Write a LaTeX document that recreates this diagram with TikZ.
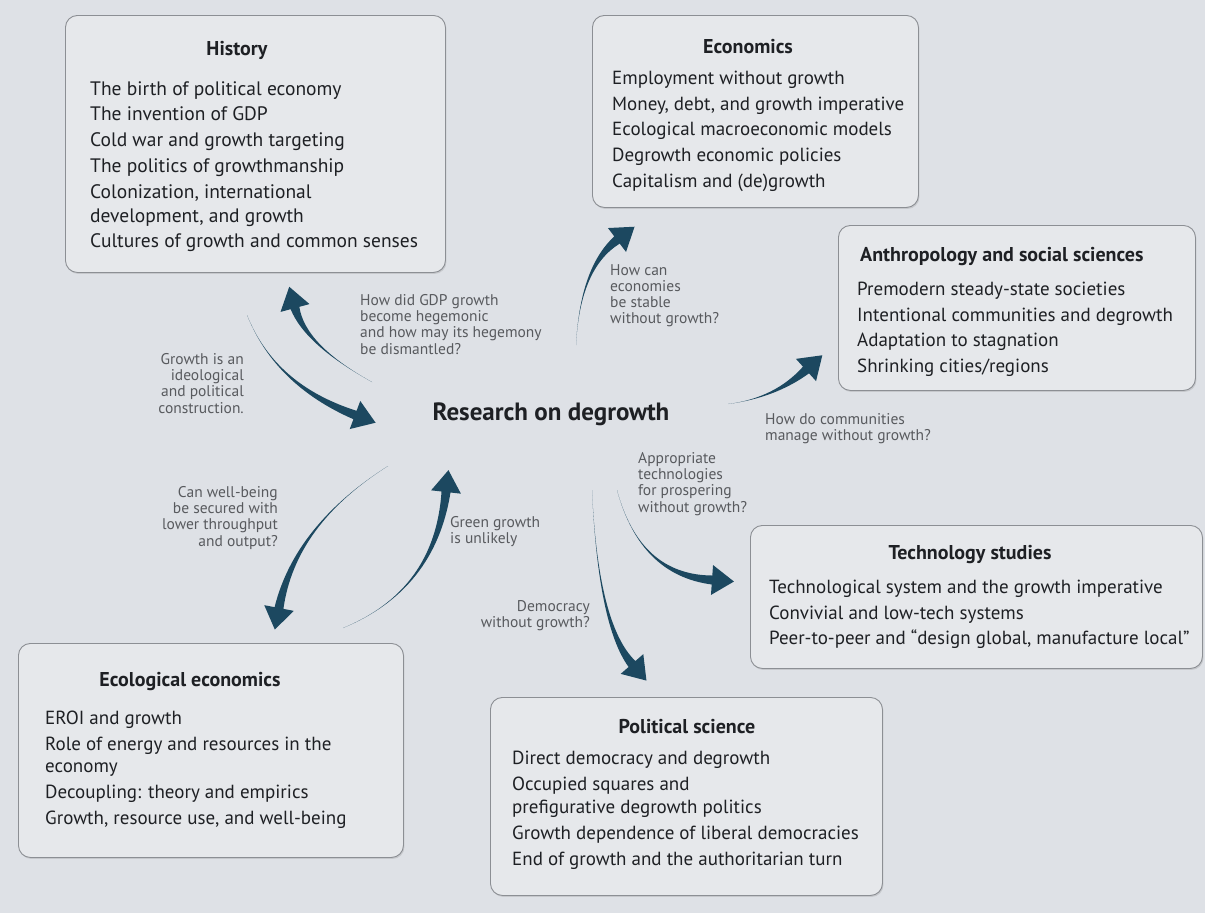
\documentclass[tikz,border=0pt]{standalone}
\usepackage{fontspec}
\setmainfont{PT Sans}
\usetikzlibrary{calc,shadows}
\definecolor{paper}{RGB}{222,225,230}
\definecolor{boxfill}{RGB}{230,232,235}
\definecolor{boxline}{RGB}{140,143,148}
\definecolor{ink}{RGB}{30,32,36}
\definecolor{qgray}{RGB}{88,90,94}
\definecolor{arrowfill}{RGB}{28,72,96}
\tikzset{
  topicbox/.style={draw=boxline, line width=0.9pt, rounded corners=12pt, fill=boxfill, anchor=north west, inner sep=0pt,
    drop shadow={shadow xshift=1pt, shadow yshift=-1.5pt, opacity=0.25}},
  boxtitle/.style={font=\fontsize{20}{24}\selectfont\bfseries, text=ink, inner sep=0pt},
  items/.style={font=\fontsize{19}{25.6}\selectfont, align=left, anchor=north west, inner sep=0pt, text=ink},
  qlabel/.style={font=\fontsize{15.5}{16.3}\selectfont, text=qgray, inner sep=0pt},
  centre/.style={font=\fontsize{25}{28}\selectfont\bfseries, text=ink, inner sep=0pt}
}
\newcommand{\taperarrow}[3]{%
  \path ($(#3)!4.5pt!90:(#2)$) coordinate (tA)
        ($(#3)!4.5pt!-90:(#2)$) coordinate (tB)
        ($(#3)!15pt!90:(#2)$) coordinate (hA)
        ($(#3)!15pt!-90:(#2)$) coordinate (hB)
        ($(#3)!-22pt!(#2)$) coordinate (tT)
        ($(#1)!0.667!(#2)$) coordinate (tC1)
        ($(tA)!0.667!(#2)$) coordinate (tCA)
        ($(tB)!0.667!(#2)$) coordinate (tCB);
  \fill[arrowfill] (#1) .. controls (tC1) and (tCA) .. (tA) -- (hA) -- (tT) -- (hB) -- (tB) .. controls (tCB) and (tC1) .. (#1) -- cycle;
}
\begin{document}
\begin{tikzpicture}[x=1pt,y=-1pt]
\fill[paper] (0,0) rectangle (1205,913);
\useasboundingbox (0,0) rectangle (1205,913);

% boxes
\node[topicbox, minimum width=380pt, minimum height=257pt] (hist) at (65,15) {};
\node[boxtitle] (histT) at (237,50) {History};
\node[items, font=\fontsize{19.5}{25.8}\selectfont] (histL) at (90,81) {The birth of political economy\\The invention of GDP\\Cold war and growth targeting\\The politics of growthmanship\\Colonization, international\\[-2pt]development, and growth\\Cultures of growth and common senses};

\node[topicbox, minimum width=326pt, minimum height=192pt] (econ) at (592,15) {};
\node[boxtitle] (econT) at (748,47) {Economics};
\node[items] (econL) at (612,71) {Employment without growth\\Money, debt, and growth imperative\\Ecological macroeconomic models\\Degrowth economic policies\\Capitalism and (de)growth};

\node[topicbox, minimum width=357pt, minimum height=165pt] (anth) at (838,225) {};
\node[boxtitle, anchor=west] (anthT) at (860,257) {Anthropology and social sciences};
\node[items] (anthL) at (857,282) {Premodern steady-state societies\\Intentional communities and degrowth\\Adaptation to stagnation\\Shrinking cities/regions};

\node[topicbox, minimum width=452pt, minimum height=143pt] (tech) at (750,525) {};
\node[boxtitle] (techT) at (970,555) {Technology studies};
\node[items] (techL) at (769,580) {Technological system and the growth imperative\\Convivial and low-tech systems\\Peer-to-peer and “design global, manufacture local”};

\node[topicbox, minimum width=392pt, minimum height=198pt] (poli) at (490,697) {};
\node[boxtitle] (poliT) at (687,727) {Political science};
\node[items] (poliL) at (512,751) {Direct democracy and degrowth\\Occupied squares and\\[-2pt]prefigurative degrowth politics\\Growth dependence of liberal democracies\\End of growth and the authoritarian turn};

\node[topicbox, minimum width=385pt, minimum height=214pt] (ecol) at (18,643) {};
\node[boxtitle] (ecolT) at (190,682) {Ecological economics};
\node[items] (ecolL) at (45,711) {EROI and growth\\Role of energy and resources in the\\[-3pt]economy\\Decoupling: theory and empirics\\Growth, resource use, and well-being};

% centre
\node[centre] (res) at (551,414) {Research on degrowth};

% question labels
\node[qlabel, align=left, anchor=north west] (q1) at (360,294) {How did GDP growth\\become hegemonic\\and how may its hegemony\\be dismantled?};
\node[qlabel, align=right, anchor=north east] (q2) at (244,353) {Growth is an\\ideological\\and political\\construction.};
\node[qlabel, align=left, anchor=north west] (q3) at (610,264) {How can\\economies\\be stable\\without growth?};
\node[qlabel, align=left, anchor=north west] (q4) at (765,413) {How do communities\\manage without growth?};
\node[qlabel, align=left, anchor=north west] (q5) at (638,452) {Appropriate\\technologies\\for prospering\\without growth?};
\node[qlabel, align=right, anchor=north east] (q6) at (278,486) {Can well-being\\be secured with\\lower throughput\\and output?};
\node[qlabel, align=left, anchor=north west] (q7) at (450,516) {Green growth\\is unlikely};
\node[qlabel, align=right, anchor=north east] (q8) at (590,600) {Democracy\\without growth?};

% arrow coordinates (start, control, head base)
\coordinate (a1s) at (372,382); \coordinate (a1c) at (305,345); \coordinate (a1e) at (295,308);
\coordinate (a2s) at (247,315); \coordinate (a2c) at (275,385); \coordinate (a2e) at (355,415);
\coordinate (a3s) at (576,345); \coordinate (a3c) at (580,268); \coordinate (a3e) at (617,240);
\coordinate (a4s) at (728,404); \coordinate (a4c) at (775,398); \coordinate (a4e) at (806,370);
\coordinate (a5s) at (617,490); \coordinate (a5c) at (640,575); \coordinate (a5e) at (712,580);
\coordinate (a6s) at (592,490); \coordinate (a6c) at (598,625); \coordinate (a6e) at (632,664);
\coordinate (a7s) at (388,466); \coordinate (a7c) at (295,525); \coordinate (a7e) at (279,608);
\coordinate (a8s) at (343,628); \coordinate (a8c) at (435,590); \coordinate (a8e) at (446,492);

\taperarrow{a1s}{a1c}{a1e}
\taperarrow{a2s}{a2c}{a2e}
\taperarrow{a3s}{a3c}{a3e}
\taperarrow{a4s}{a4c}{a4e}
\taperarrow{a5s}{a5c}{a5e}
\taperarrow{a6s}{a6c}{a6e}
\taperarrow{a7s}{a7c}{a7e}
\taperarrow{a8s}{a8c}{a8e}
\end{tikzpicture}
\end{document}
